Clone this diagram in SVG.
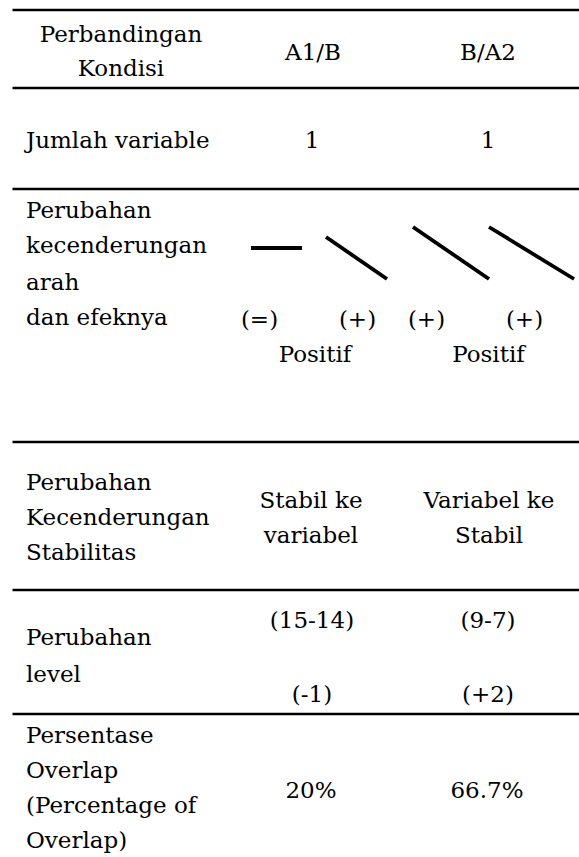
<svg xmlns="http://www.w3.org/2000/svg" width="579" height="857" viewBox="0 0 579 857">
<style>
text{font-family:"DejaVu Serif","Liberation Serif",serif;font-size:23px;fill:#000}
.c{text-anchor:middle}
.rule{stroke:#000;stroke-width:2.5}
.trend{stroke:#000;stroke-width:3.8;stroke-linecap:butt}
</style>
<rect width="579" height="857" fill="#fff"/>
<g id="rules">
<line class="rule" x1="12.5" y1="10" x2="579" y2="10"/>
<line class="rule" x1="12.5" y1="88" x2="579" y2="88"/>
<line class="rule" x1="12.5" y1="189" x2="579" y2="189"/>
<line class="rule" x1="12.5" y1="442" x2="579" y2="442"/>
<line class="rule" x1="12.5" y1="590" x2="579" y2="590"/>
<line class="rule" x1="12.5" y1="714" x2="579" y2="714"/>
</g>
<g id="row-header">
<text class="c" x="121" y="42">Perbandingan</text>
<text class="c" x="121" y="76">Kondisi</text>
<text class="c" x="313" y="60">A1/B</text>
<text class="c" x="488" y="60">B/A2</text>
</g>
<g id="row-jumlah">
<text x="26" y="148">Jumlah variable</text>
<text class="c" x="312" y="148">1</text>
<text class="c" x="488" y="148">1</text>
</g>
<g id="row-arah">
<text x="26" y="218">Perubahan</text>
<text x="26" y="253">kecenderungan</text>
<text x="26" y="290">arah</text>
<text x="26" y="325">dan efeknya</text>
<g id="trend-lines">
<line class="trend" x1="251" y1="248" x2="302" y2="248"/>
<line class="trend" x1="326" y1="237" x2="387" y2="279"/>
<line class="trend" x1="413" y1="227" x2="489" y2="279"/>
<line class="trend" x1="489" y1="227" x2="574" y2="279"/>
</g>
<text class="c" x="259.5" y="327">(=)</text>
<text class="c" x="357.5" y="327">(+)</text>
<text class="c" x="426.5" y="327">(+)</text>
<text class="c" x="524.5" y="327">(+)</text>
<text class="c" x="315" y="362">Positif</text>
<text class="c" x="488.5" y="362">Positif</text>
</g>
<g id="row-stabilitas">
<text x="26" y="490">Perubahan</text>
<text x="26" y="525">Kecenderungan</text>
<text x="26" y="560">Stabilitas</text>
<text class="c" x="311" y="508">Stabil ke</text>
<text class="c" x="311" y="543">variabel</text>
<text class="c" x="489" y="508">Variabel ke</text>
<text class="c" x="489" y="543">Stabil</text>
</g>
<g id="row-level">
<text x="26" y="645">Perubahan</text>
<text x="26" y="682">level</text>
<text class="c" x="312" y="628">(15-14)</text>
<text class="c" x="488" y="628">(9-7)</text>
<text class="c" x="312" y="702">(-1)</text>
<text class="c" x="488" y="702">(+2)</text>
</g>
<g id="row-overlap">
<text x="26" y="743">Persentase</text>
<text x="26" y="778">Overlap</text>
<text x="26" y="813">(Percentage of</text>
<text x="26" y="848">Overlap)</text>
<text class="c" x="311" y="798">20%</text>
<text class="c" x="487" y="798">66.7%</text>
</g>
</svg>
